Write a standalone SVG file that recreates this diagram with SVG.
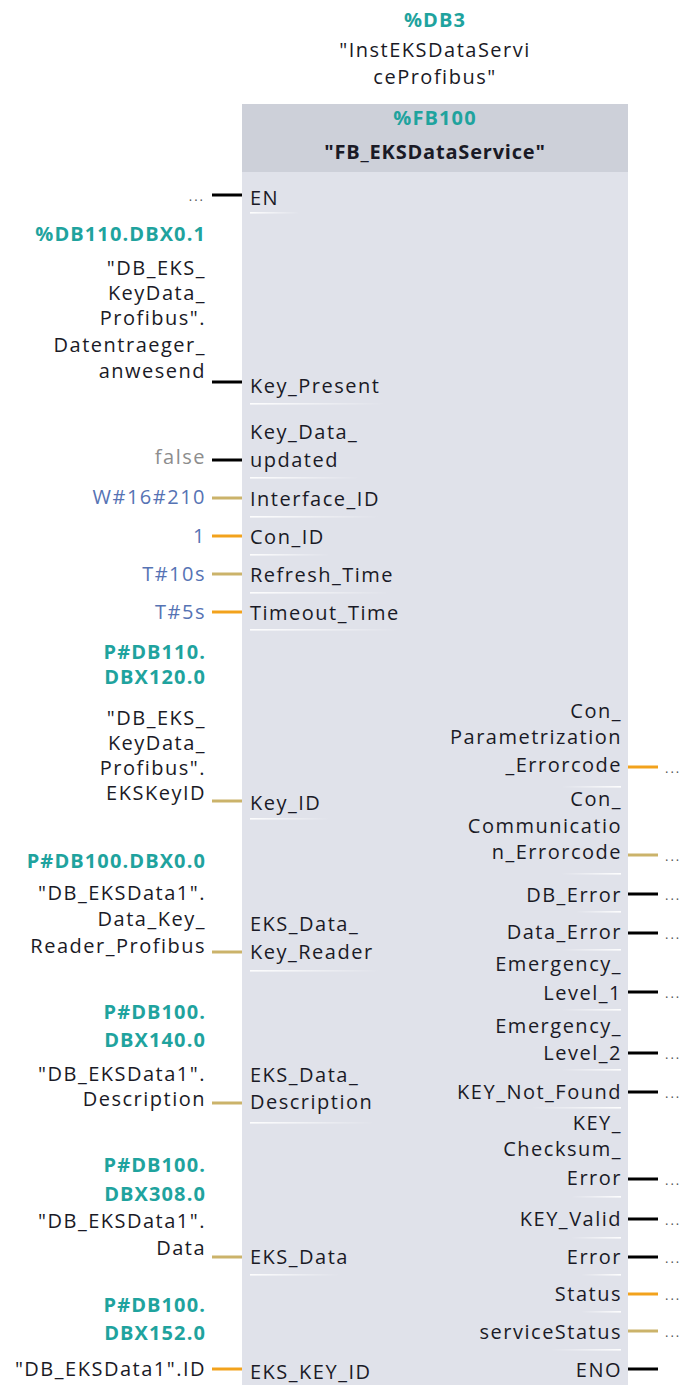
<svg xmlns="http://www.w3.org/2000/svg" width="683" height="1385" viewBox="0 0 683 1385">
<style>
.t{font-family:"Open Sans","Liberation Sans",sans-serif;font-size:20px;letter-spacing:1.5px;fill:#1a1a26}
.e{text-anchor:end}
.m{text-anchor:middle}
.tl{fill:#1fa39e;font-weight:bold;letter-spacing:1.1px}
.bl{fill:#5673b4}
.gr{fill:#8d8d8d}
.hb{font-weight:bold;letter-spacing:0.8px}
.dots{font-family:"Open Sans",sans-serif;font-size:13px;letter-spacing:2px;fill:#555}
.w{stroke-width:3;fill:none}
.k{stroke:#000}
.o{stroke:#f2a21c}
.y{stroke:#cbb36a}
</style>
<defs>
<linearGradient id="gL" x1="0" y1="0" x2="1" y2="0"><stop offset="0" stop-color="#fff" stop-opacity="0.95"/><stop offset="1" stop-color="#fff" stop-opacity="0"/></linearGradient>
<linearGradient id="gR" x1="0" y1="0" x2="1" y2="0"><stop offset="0" stop-color="#fff" stop-opacity="0"/><stop offset="1" stop-color="#fff" stop-opacity="0.95"/></linearGradient>
</defs>

<g id="instance">
<text class="t tl m" x="435" y="27">%DB3</text>
<text class="t m" x="435" y="57">"InstEKSDataServi</text>
<text class="t m" x="435" y="84">ceProfibus"</text>
</g>

<g id="block">
<rect x="242" y="104" width="386" height="68" fill="#cdd0d9"/>
<rect x="242" y="172" width="386" height="1213" fill="#e0e2ea"/>
<text class="t tl m" x="435" y="125">%FB100</text>
<text class="t hb m" x="435" y="159">"FB_EKSDataService"</text>
<g id="separators">
<rect x="250" y="212" width="50" height="1.6" fill="url(#gL)"/>
<rect x="250" y="403" width="135" height="1.6" fill="url(#gL)"/>
<rect x="250" y="477" width="110" height="1.6" fill="url(#gL)"/>
<rect x="250" y="516" width="130" height="1.6" fill="url(#gL)"/>
<rect x="250" y="554" width="80" height="1.6" fill="url(#gL)"/>
<rect x="250" y="592" width="140" height="1.6" fill="url(#gL)"/>
<rect x="250" y="629" width="150" height="1.6" fill="url(#gL)"/>
<rect x="250" y="818" width="80" height="1.6" fill="url(#gL)"/>
<rect x="250" y="970" width="130" height="1.6" fill="url(#gL)"/>
<rect x="250" y="1122" width="125" height="1.6" fill="url(#gL)"/>
<rect x="250" y="1274" width="90" height="1.6" fill="url(#gL)"/>
<rect x="561" y="786" width="60" height="1.6" fill="url(#gR)"/>
<rect x="561" y="873" width="60" height="1.6" fill="url(#gR)"/>
<rect x="576" y="911" width="45" height="1.6" fill="url(#gR)"/>
<rect x="561" y="949" width="60" height="1.6" fill="url(#gR)"/>
<rect x="561" y="1009" width="60" height="1.6" fill="url(#gR)"/>
<rect x="561" y="1069" width="60" height="1.6" fill="url(#gR)"/>
<rect x="531" y="1107" width="90" height="1.6" fill="url(#gR)"/>
<rect x="571" y="1196" width="50" height="1.6" fill="url(#gR)"/>
<rect x="571" y="1237" width="50" height="1.6" fill="url(#gR)"/>
<rect x="581" y="1274" width="40" height="1.6" fill="url(#gR)"/>
<rect x="581" y="1311" width="40" height="1.6" fill="url(#gR)"/>
<rect x="551" y="1349" width="70" height="1.6" fill="url(#gR)"/>
</g>
</g>

<g id="pin-EN">
<text class="dots e" x="205" y="201">...</text>
<text class="t" x="250" y="205">EN</text>
</g>
<g id="pin-Key_Present">
<text class="t tl e" x="206" y="241">%DB110.DBX0.1</text>
<text class="t e" x="206" y="275">"DB_EKS_</text>
<text class="t e" x="206" y="300">KeyData_</text>
<text class="t e" x="206" y="325">Profibus".</text>
<text class="t e" x="206" y="352">Datentraeger_</text>
<text class="t e" x="206" y="378">anwesend</text>
<text class="t" x="250" y="393">Key_Present</text>
</g>
<g id="pin-Key_Data_updated">
<text class="t gr e" x="206" y="464">false</text>
<text class="t" x="250" y="439">Key_Data_</text>
<text class="t" x="250" y="467">updated</text>
</g>
<g id="pin-Interface_ID">
<text class="t bl e" x="206" y="504">W#16#210</text>
<text class="t" x="250" y="506">Interface_ID</text>
</g>
<g id="pin-Con_ID">
<text class="t bl e" x="206" y="543">1</text>
<text class="t" x="250" y="544">Con_ID</text>
</g>
<g id="pin-Refresh_Time">
<text class="t bl e" x="206" y="581">T#10s</text>
<text class="t" x="250" y="582">Refresh_Time</text>
</g>
<g id="pin-Timeout_Time">
<text class="t bl e" x="206" y="619">T#5s</text>
<text class="t" x="250" y="620">Timeout_Time</text>
</g>
<g id="pin-Key_ID">
<text class="t tl e" x="206" y="659">P#DB110.</text>
<text class="t tl e" x="206" y="684">DBX120.0</text>
<text class="t e" x="206" y="725">"DB_EKS_</text>
<text class="t e" x="206" y="750">KeyData_</text>
<text class="t e" x="206" y="775">Profibus".</text>
<text class="t e" x="206" y="800">EKSKeyID</text>
<text class="t" x="250" y="810">Key_ID</text>
</g>
<g id="pin-EKS_Data_Key_Reader">
<text class="t tl e" x="206" y="868">P#DB100.DBX0.0</text>
<text class="t e" x="206" y="900">"DB_EKSData1".</text>
<text class="t e" x="206" y="926">Data_Key_</text>
<text class="t e" x="206" y="953">Reader_Profibus</text>
<text class="t" x="250" y="931">EKS_Data_</text>
<text class="t" x="250" y="959">Key_Reader</text>
</g>
<g id="pin-EKS_Data_Description">
<text class="t tl e" x="206" y="1019">P#DB100.</text>
<text class="t tl e" x="206" y="1047">DBX140.0</text>
<text class="t e" x="206" y="1081">"DB_EKSData1".</text>
<text class="t e" x="206" y="1106">Description</text>
<text class="t" x="250" y="1082">EKS_Data_</text>
<text class="t" x="250" y="1109">Description</text>
</g>
<g id="pin-EKS_Data">
<text class="t tl e" x="206" y="1172">P#DB100.</text>
<text class="t tl e" x="206" y="1201">DBX308.0</text>
<text class="t e" x="206" y="1228">"DB_EKSData1".</text>
<text class="t e" x="206" y="1255">Data</text>
<text class="t" x="250" y="1264">EKS_Data</text>
</g>
<g id="pin-EKS_KEY_ID">
<text class="t tl e" x="206" y="1312">P#DB100.</text>
<text class="t tl e" x="206" y="1340">DBX152.0</text>
<text class="t e" x="206" y="1376">"DB_EKSData1".ID</text>
<text class="t" x="250" y="1379">EKS_KEY_ID</text>
</g>

<g id="pin-Con_Parametrization_Errorcode">
<text class="t e" x="622" y="718">Con_</text>
<text class="t e" x="622" y="744">Parametrization</text>
<text class="t e" x="622" y="772">_Errorcode</text>
<text class="dots" x="665" y="773">...</text>
</g>
<g id="pin-Con_Communication_Errorcode">
<text class="t e" x="622" y="806">Con_</text>
<text class="t e" x="622" y="833">Communicatio</text>
<text class="t e" x="622" y="859">n_Errorcode</text>
<text class="dots" x="665" y="861">...</text>
</g>
<g id="pin-DB_Error">
<text class="t e" x="622" y="902">DB_Error</text>
<text class="dots" x="665" y="900">...</text>
</g>
<g id="pin-Data_Error">
<text class="t e" x="622" y="939">Data_Error</text>
<text class="dots" x="665" y="939">...</text>
</g>
<g id="pin-Emergency_Level_1">
<text class="t e" x="622" y="971">Emergency_</text>
<text class="t e" x="622" y="1000">Level_1</text>
<text class="dots" x="665" y="998">...</text>
</g>
<g id="pin-Emergency_Level_2">
<text class="t e" x="622" y="1033">Emergency_</text>
<text class="t e" x="622" y="1060">Level_2</text>
<text class="dots" x="665" y="1059">...</text>
</g>
<g id="pin-KEY_Not_Found">
<text class="t e" x="622" y="1099">KEY_Not_Found</text>
<text class="dots" x="665" y="1098">...</text>
</g>
<g id="pin-KEY_Checksum_Error">
<text class="t e" x="622" y="1130">KEY_</text>
<text class="t e" x="622" y="1156">Checksum_</text>
<text class="t e" x="622" y="1185">Error</text>
<text class="dots" x="665" y="1185">...</text>
</g>
<g id="pin-KEY_Valid">
<text class="t e" x="622" y="1226">KEY_Valid</text>
<text class="dots" x="665" y="1225">...</text>
</g>
<g id="pin-Error">
<text class="t e" x="622" y="1264">Error</text>
<text class="dots" x="665" y="1263">...</text>
</g>
<g id="pin-Status">
<text class="t e" x="622" y="1301">Status</text>
<text class="dots" x="665" y="1300">...</text>
</g>
<g id="pin-serviceStatus">
<text class="t e" x="622" y="1339">serviceStatus</text>
<text class="dots" x="665" y="1337">...</text>
</g>
<g id="pin-ENO">
<text class="t e" x="622" y="1377">ENO</text>
</g>

<g id="connectors" class="w">
<line class="k" x1="212" y1="195" x2="242" y2="195"/>
<line class="k" x1="212" y1="382" x2="242" y2="382"/>
<line class="k" x1="212" y1="460" x2="242" y2="460"/>
<line class="y" x1="212" y1="498" x2="242" y2="498"/>
<line class="o" x1="212" y1="536" x2="242" y2="536"/>
<line class="y" x1="212" y1="574" x2="242" y2="574"/>
<line class="o" x1="212" y1="612" x2="242" y2="612"/>
<line class="y" x1="212" y1="801" x2="242" y2="801"/>
<line class="y" x1="212" y1="952" x2="242" y2="952"/>
<line class="y" x1="212" y1="1103" x2="242" y2="1103"/>
<line class="y" x1="212" y1="1257" x2="242" y2="1257"/>
<line class="o" x1="212" y1="1369" x2="242" y2="1369"/>
<line class="o" x1="628" y1="767" x2="658" y2="767"/>
<line class="y" x1="628" y1="855" x2="658" y2="855"/>
<line class="k" x1="628" y1="894" x2="658" y2="894"/>
<line class="k" x1="628" y1="933" x2="658" y2="933"/>
<line class="k" x1="628" y1="992" x2="658" y2="992"/>
<line class="k" x1="628" y1="1053" x2="658" y2="1053"/>
<line class="k" x1="628" y1="1092" x2="658" y2="1092"/>
<line class="k" x1="628" y1="1179" x2="658" y2="1179"/>
<line class="k" x1="628" y1="1219" x2="658" y2="1219"/>
<line class="k" x1="628" y1="1257" x2="658" y2="1257"/>
<line class="o" x1="628" y1="1294" x2="658" y2="1294"/>
<line class="y" x1="628" y1="1331" x2="658" y2="1331"/>
<line class="k" x1="628" y1="1369" x2="658" y2="1369"/>
</g>
</svg>
